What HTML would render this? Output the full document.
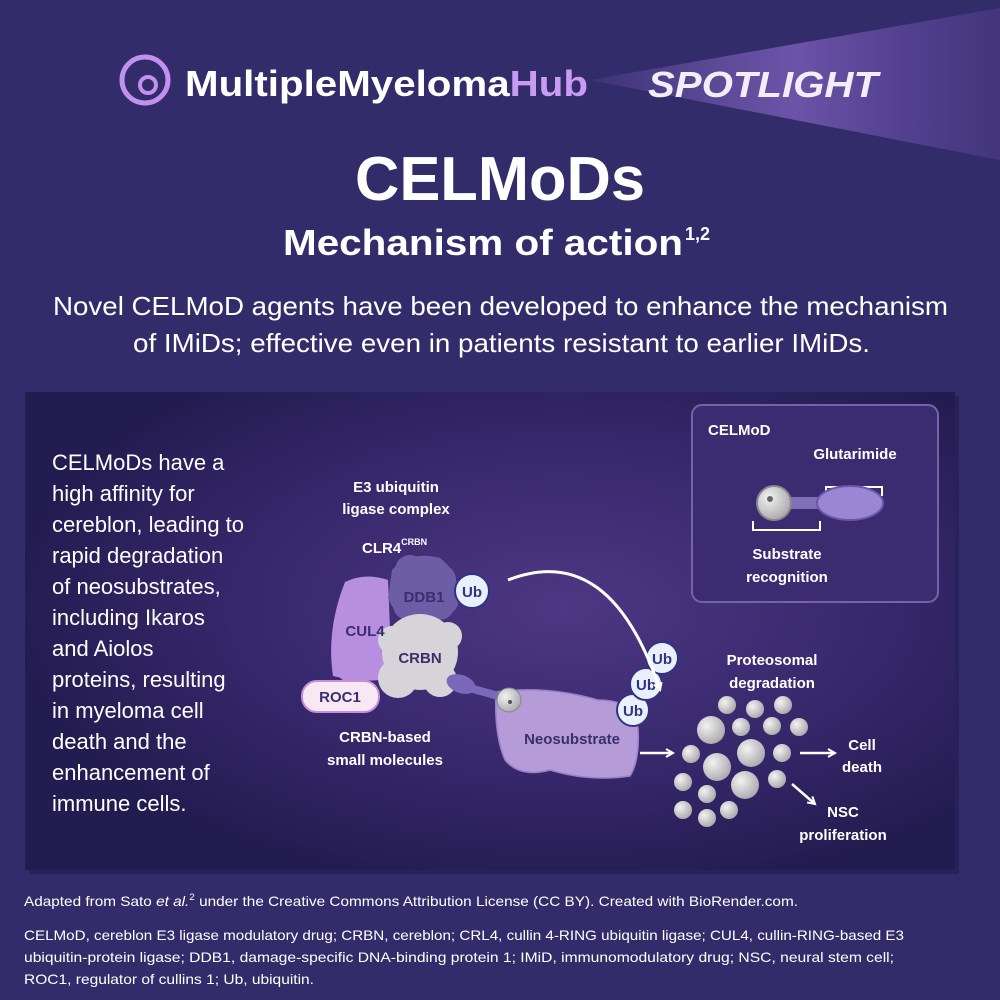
<!DOCTYPE html>
<html><head><meta charset="utf-8"><style>
html,body{margin:0;padding:0;background:#332c6a;}
svg{display:block}
text{font-family:"Liberation Sans",sans-serif;}
</style></head><body>
<svg width="1000" height="1000" viewBox="0 0 1000 1000" xmlns="http://www.w3.org/2000/svg">
<defs>
<linearGradient id="beam" x1="0" y1="0" x2="1" y2="0">
<stop offset="0" stop-color="#8a6cc8" stop-opacity="0.1"/>
<stop offset="0.5" stop-color="#7a5db8" stop-opacity="0.8"/>
<stop offset="1" stop-color="#5a449a" stop-opacity="0.4"/>
</linearGradient>
<radialGradient id="glow" cx="0.58" cy="0.45" r="0.6">
<stop offset="0" stop-color="#4e3784"/>
<stop offset="0.6" stop-color="#35276a"/>
<stop offset="1" stop-color="#231c50"/>
</radialGradient>
<radialGradient id="ball" cx="0.35" cy="0.35" r="0.7">
<stop offset="0" stop-color="#f2f2f2"/><stop offset="1" stop-color="#a9a9ad"/>
</radialGradient>
<marker id="ah" markerWidth="10" markerHeight="10" refX="8" refY="5" orient="auto" markerUnits="userSpaceOnUse">
<path d="M1,1 L8,5 L1,9" fill="none" stroke="#fff" stroke-width="2"/>
</marker>
</defs>
<rect width="1000" height="1000" fill="#332c6a"/>
<!-- header -->
<polygon points="590,80 1000,8 1000,160" fill="url(#beam)"/>
<circle cx="145" cy="80" r="23" fill="none" stroke="#c290ee" stroke-width="5"/>
<circle cx="148" cy="85" r="8" fill="none" stroke="#c290ee" stroke-width="4"/>
<text x="185" y="96" font-size="36" font-weight="bold" fill="#fff" textLength="403" lengthAdjust="spacingAndGlyphs">MultipleMyeloma<tspan fill="#c89cf2">Hub</tspan></text>
<text x="648" y="97" font-size="36" font-weight="bold" font-style="italic" fill="#f2eef8" textLength="230" lengthAdjust="spacingAndGlyphs">SPOTLIGHT</text>
<text x="500" y="200" font-size="62" font-weight="bold" fill="#fff" text-anchor="middle" textLength="290" lengthAdjust="spacingAndGlyphs">CELMoDs</text>
<text x="283" y="255" font-size="36" font-weight="bold" fill="#fff" textLength="400" lengthAdjust="spacingAndGlyphs">Mechanism of action</text>
<text x="685" y="240" font-size="18" font-weight="bold" fill="#fff">1,2</text>
<text x="53" y="315" font-size="26" fill="#fff" textLength="895" lengthAdjust="spacingAndGlyphs">Novel CELMoD agents have been developed to enhance the mechanism</text>
<text x="133" y="352" font-size="26" fill="#fff" textLength="737" lengthAdjust="spacingAndGlyphs">of IMiDs; effective even in patients resistant to earlier IMiDs.</text>
<!-- panel -->
<rect x="29" y="396" width="930" height="478" fill="#221c4c" opacity="0.6"/>
<rect x="25" y="392" width="930" height="478" fill="url(#glow)"/>
<g font-size="22" fill="#fff">
<text x="52" y="470">CELMoDs have a</text>
<text x="52" y="501">high affinity for</text>
<text x="52" y="532">cereblon, leading to</text>
<text x="52" y="563">rapid degradation</text>
<text x="52" y="594">of neosubstrates,</text>
<text x="52" y="625">including Ikaros</text>
<text x="52" y="656">and Aiolos</text>
<text x="52" y="687">proteins, resulting</text>
<text x="52" y="718">in myeloma cell</text>
<text x="52" y="749">death and the</text>
<text x="52" y="780">enhancement of</text>
<text x="52" y="811">immune cells.</text>
</g>
<!-- CELMoD box -->
<rect x="692" y="405" width="246" height="197" rx="10" fill="#3b2c72" stroke="#7563a8" stroke-width="2"/>
<g font-size="15" font-weight="bold" fill="#fff">
<text x="708" y="435">CELMoD</text>
<text x="855" y="459" text-anchor="middle">Glutarimide</text>
<text x="787" y="559" text-anchor="middle">Substrate</text>
<text x="787" y="582" text-anchor="middle">recognition</text>
<text x="396" y="492" text-anchor="middle">E3 ubiquitin</text>
<text x="396" y="514" text-anchor="middle">ligase complex</text>
<text x="362" y="553">CLR4<tspan font-size="9" dy="-8">CRBN</tspan></text>
<text x="385" y="742" text-anchor="middle">CRBN-based</text>
<text x="385" y="765" text-anchor="middle">small molecules</text>
<text x="772" y="665" text-anchor="middle">Proteosomal</text>
<text x="772" y="688" text-anchor="middle">degradation</text>
<text x="862" y="750" text-anchor="middle">Cell</text>
<text x="862" y="772" text-anchor="middle">death</text>
<text x="843" y="817" text-anchor="middle">NSC</text>
<text x="843" y="840" text-anchor="middle">proliferation</text>
</g>
<path d="M826,496 V487 H882 V496" fill="none" stroke="#fff" stroke-width="2"/>
<path d="M753,521 V530 H820 V521" fill="none" stroke="#fff" stroke-width="2"/>
<rect x="780" y="497" width="40" height="12" fill="#8070b8"/>
<ellipse cx="850" cy="503" rx="33" ry="17" fill="#9a86d2" stroke="#6a58a8" stroke-width="2"/>
<circle cx="774" cy="503" r="17" fill="url(#ball)" stroke="#888" stroke-width="2"/>
<circle cx="770" cy="499" r="3" fill="#666"/>
<!-- complex -->
<g fill="#b88ee0">
<path d="M345,582 Q365,572 388,580 L392,678 Q365,684 333,676 Q326,630 345,582Z"/>
<circle cx="362" cy="600" r="18"/><circle cx="352" cy="640" r="20"/><circle cx="350" cy="668" r="14"/>
</g>
<g fill="#6d5ca6">
<path d="M392,570 Q410,550 440,558 Q462,575 458,605 Q450,622 420,622 Q395,618 388,598Z"/>
<circle cx="410" cy="570" r="15"/><circle cx="440" cy="580" r="16"/><circle cx="408" cy="605" r="15"/><circle cx="440" cy="606" r="14"/>
</g>
<g fill="#d6d4d8">
<circle cx="420" cy="652" r="38"/><circle cx="398" cy="678" r="20"/><circle cx="440" cy="680" r="17"/><circle cx="392" cy="640" r="14"/><circle cx="448" cy="636" r="14"/>
</g>
<g font-size="15" font-weight="bold" fill="#3a2f6e">
<text x="424" y="602" text-anchor="middle">DDB1</text>
<text x="365" y="636" text-anchor="middle">CUL4</text>
<text x="420" y="663" text-anchor="middle">CRBN</text>
</g>
<rect x="302" y="681" width="77" height="31" rx="15" fill="#f7e8f4" stroke="#c78fd8" stroke-width="2"/>
<text x="340" y="702" font-size="15" font-weight="bold" fill="#3a2f6e" text-anchor="middle">ROC1</text>
<!-- stick & neosubstrate -->
<path d="M496,692 Q545,685 598,700 Q636,700 638,728 Q640,760 630,776 Q590,782 550,770 Q520,778 505,760 Q494,735 496,692Z" fill="#b59bd8" stroke="#9b7fc8" stroke-width="1.5"/>
<ellipse cx="461" cy="684" rx="15" ry="9" fill="#7a68b8" transform="rotate(20 461 684)"/>
<line x1="470" y1="688" x2="505" y2="698" stroke="#7a68b8" stroke-width="8"/>
<circle cx="509" cy="700" r="12" fill="url(#ball)" stroke="#888"/>
<circle cx="510" cy="702" r="2" fill="#555"/>
<text x="572" y="744" font-size="15" font-weight="bold" fill="#3a2f6e" text-anchor="middle">Neosubstrate</text>
<!-- Ub -->
<g font-size="15" font-weight="bold" fill="#2d3580" text-anchor="middle">
<circle cx="472" cy="591" r="17" fill="#eaf0fb" stroke="#2d3580" stroke-width="2"/><text x="472" y="597">Ub</text>
<circle cx="633" cy="710" r="16" fill="#eaf0fb" stroke="#2d3580" stroke-width="2"/><text x="633" y="716">Ub</text>
<circle cx="646" cy="684" r="16" fill="#eaf0fb" stroke="#2d3580" stroke-width="2"/><text x="646" y="690">Ub</text>
<circle cx="662" cy="658" r="16" fill="#eaf0fb" stroke="#2d3580" stroke-width="2"/><text x="662" y="664">Ub</text>
</g>
<path d="M508,580 Q610,540 660,690" fill="none" stroke="#fff" stroke-width="3" marker-end="url(#ah)"/>
<line x1="640" y1="753" x2="673" y2="753" stroke="#fff" stroke-width="2.5" marker-end="url(#ah)"/>
<line x1="800" y1="753" x2="835" y2="753" stroke="#fff" stroke-width="2.5" marker-end="url(#ah)"/>
<line x1="792" y1="784" x2="815" y2="804" stroke="#fff" stroke-width="2.5" marker-end="url(#ah)"/>
<!-- particles -->
<g fill="url(#ball)">
<circle cx="727" cy="705" r="9"/><circle cx="755" cy="709" r="9"/><circle cx="783" cy="705" r="9"/>
<circle cx="711" cy="730" r="14"/><circle cx="741" cy="727" r="9"/><circle cx="772" cy="726" r="9"/><circle cx="799" cy="727" r="9"/>
<circle cx="691" cy="754" r="9"/><circle cx="751" cy="753" r="14"/><circle cx="782" cy="753" r="9"/>
<circle cx="717" cy="767" r="14"/><circle cx="683" cy="782" r="9"/><circle cx="745" cy="785" r="14"/><circle cx="777" cy="779" r="9"/>
<circle cx="707" cy="794" r="9"/><circle cx="683" cy="810" r="9"/><circle cx="707" cy="818" r="9"/><circle cx="729" cy="810" r="9"/>
</g>
<!-- footer -->
<text x="24" y="906" font-size="14" fill="#fff" textLength="774" lengthAdjust="spacingAndGlyphs">Adapted from Sato <tspan font-style="italic">et al.</tspan><tspan font-size="9" dy="-6">2</tspan><tspan dy="6"> under the Creative Commons Attribution License (CC BY). Created with BioRender.com.</tspan></text>
<g font-size="14" fill="#fff">
<text x="24" y="940" textLength="880" lengthAdjust="spacingAndGlyphs">CELMoD, cereblon E3 ligase modulatory drug; CRBN, cereblon; CRL4, cullin 4-RING ubiquitin ligase; CUL4, cullin-RING-based E3</text>
<text x="24" y="962" textLength="870" lengthAdjust="spacingAndGlyphs">ubiquitin-protein ligase; DDB1, damage-specific DNA-binding protein 1; IMiD, immunomodulatory drug; NSC, neural stem cell;</text>
<text x="24" y="984" textLength="290" lengthAdjust="spacingAndGlyphs">ROC1, regulator of cullins 1; Ub, ubiquitin.</text>
</g>
</svg>
</body></html>
